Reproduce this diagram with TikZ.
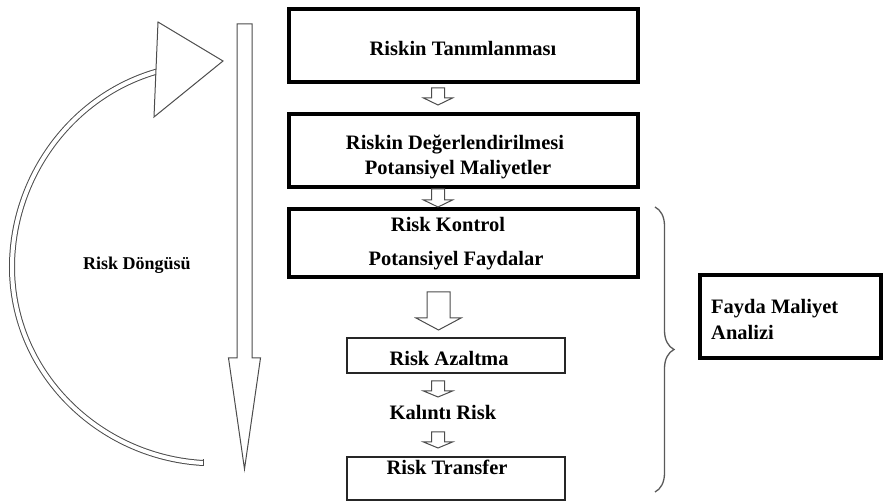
\documentclass[tikz,border=0pt]{standalone}
\usepackage{fontspec}
\setmainfont{Liberation Serif}
\usetikzlibrary{decorations.pathreplacing}
\newcommand\hollowdown[6]{%
  \draw[hollow] ({#1-#5},#2) -- ({#1-#5},#3) -- ({#1-#6},#3) -- (#1,#4) -- ({#1+#6},#3) -- ({#1+#5},#3) -- ({#1+#5},#2) -- cycle;}
\tikzset{
  hollow/.style={draw=black!70, line width=1pt, fill=white, line join=miter},
  thickbox/.style={draw=black, line width=4pt, minimum width=349pt, inner sep=0pt},
  thinbox/.style={draw=black!85, line width=1.5pt, minimum width=218pt, inner sep=0pt},
  lbl/.style={inner sep=0pt, text height=13.6pt, text depth=0pt, font=\fontsize{20.5}{24}\selectfont\bfseries},
}
\begin{document}
\begin{tikzpicture}[x=1pt, y=-1pt]
\useasboundingbox (0,0) rectangle (884,502);
% boxes
\node[thickbox, minimum height=73pt] (b1) at (463.5,45.5) {};
\node[thickbox, minimum height=73pt] (b2) at (463.5,150.5) {};
\node[thickbox, minimum height=68pt] (b3) at (463.5,243) {};
\node[thinbox, minimum height=35pt] (b4) at (456,355.5) {};
\node[thinbox, minimum height=43pt] (b5) at (456,478.5) {};
\node[draw=black, line width=4pt, minimum width=181pt, minimum height=83pt, inner sep=0pt] (fm) at (790.5,316.5) {};
% labels
\node[lbl] (t1) at (463,49) {Riskin Tanımlanması};
\node[lbl] (t2a) at (455,143) {Riskin Değerlendirilmesi};
\node[lbl] (t2b) at (458,168) {Potansiyel Maliyetler};
\node[lbl] (t3a) at (448,225) {Risk Kontrol};
\node[lbl] (t3b) at (456,259) {Potansiyel Faydalar};
\node[lbl] (t4) at (449,359) {Risk Azaltma};
\node[lbl] (t5) at (443,413) {Kalıntı Risk};
\node[lbl] (t6) at (447,468) {Risk Transfer};
\node[lbl, anchor=west] (t7) at (711,307) {Fayda Maliyet};
\node[lbl, anchor=west] (t8) at (711,333) {Analizi};
\node[inner sep=0pt, text height=11.9pt, text depth=0pt, font=\fontsize{18}{22}\selectfont\bfseries] (rd) at (137,264) {Risk Döngüsü};
% hollow flow arrows
\hollowdown{438}{88}{98}{105}{6.5}{14.5}
\hollowdown{438}{189}{200}{207}{6.5}{14.5}
\hollowdown{438.5}{292}{318}{330}{11.5}{22.5}
\hollowdown{438}{381}{391}{397}{6.5}{14.5}
\hollowdown{438}{432}{442}{448}{6.5}{14.5}
% big vertical arrow
\hollowdown{244.5}{24}{358}{469}{7.5}{16}
% curved cycle arrow
\coordinate (ce) at (203,463);
\coordinate (cl) at (12,267);
\coordinate (cs) at (157,71.5);
\draw[draw=black!70, line width=1pt, double=white, double distance=4pt] (ce) .. controls (98,457) and (12,372) .. (cl) .. controls (12,178) and (71,96) .. (cs);
\draw[draw=black!70, line width=1pt] (203,459.5) -- (203,466.5);
\coordinate (hA) at (158,22);
\coordinate (hB) at (154,117);
\coordinate (hC) at (223,61);
\draw[hollow] (hA) -- (hC) -- (hB) -- cycle;
% brace
\coordinate (brt) at (655,207);
\coordinate (brb) at (655,492);
\draw[draw=black!65, line width=1.3pt, decorate, decoration={brace, amplitude=19pt}] (brt) -- (brb);
\end{tikzpicture}
\end{document}
